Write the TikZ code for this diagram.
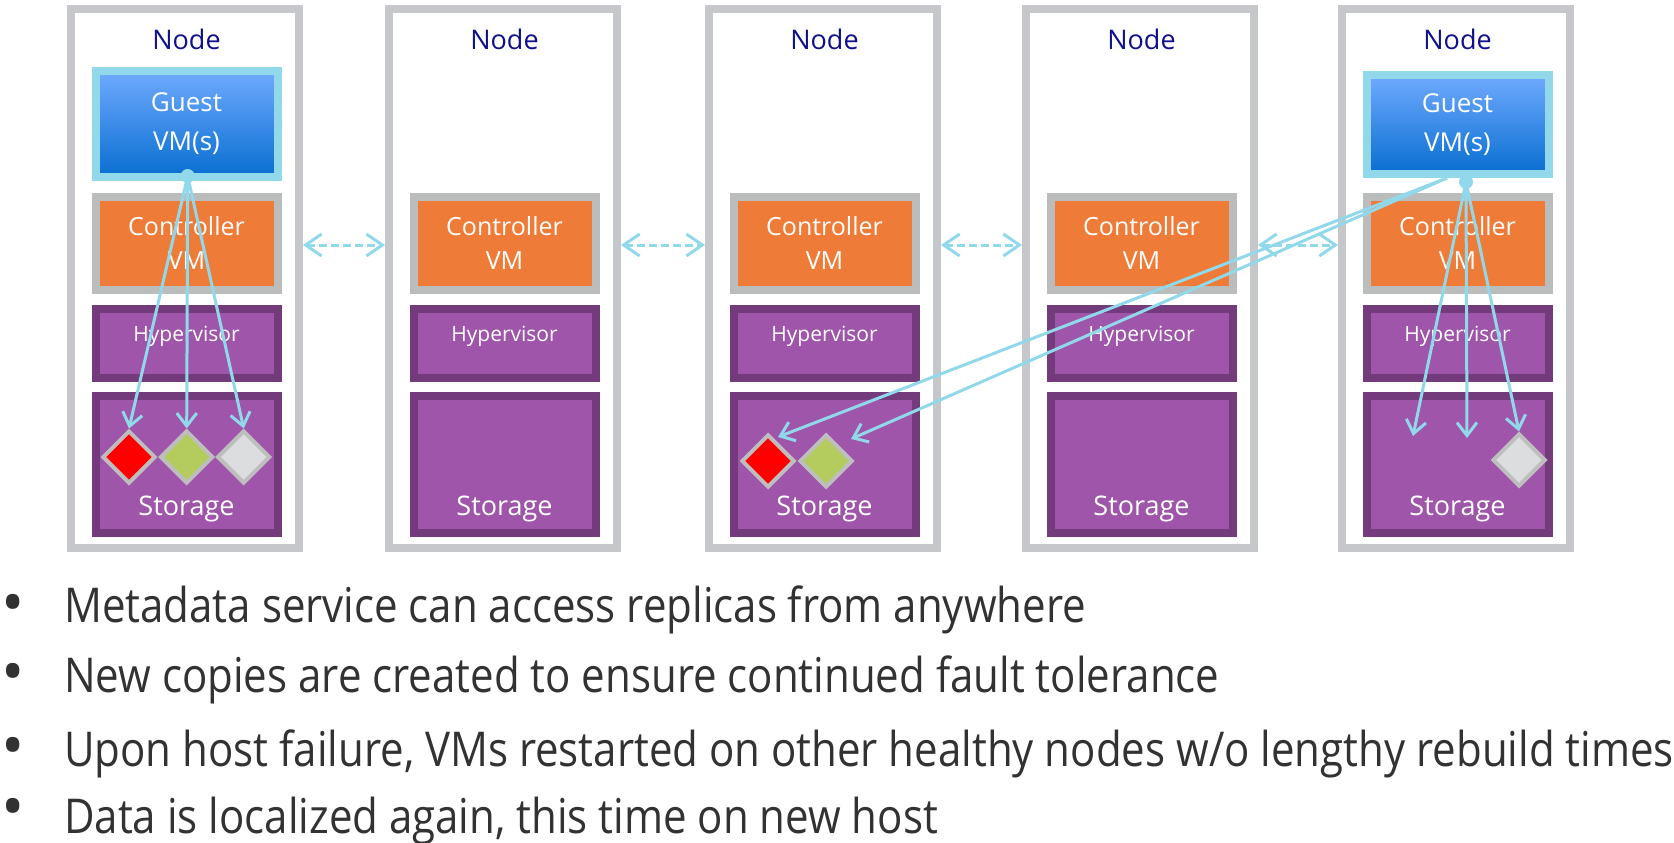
\documentclass[tikz,border=0pt]{standalone}
\usepackage{fontspec}
\setmainfont{Open Sans}
\usepackage{graphicx}
\usetikzlibrary{shapes.geometric, arrows.meta}

\definecolor{hostgray}{RGB}{198,199,203}
\definecolor{titleblue}{RGB}{16,16,140}
\definecolor{guestedge}{RGB}{146,216,235}
\definecolor{guesttop}{RGB}{112,170,255}
\definecolor{guestbottom}{RGB}{8,110,208}
\definecolor{cvmedge}{RGB}{187,188,188}
\definecolor{cvmfill}{RGB}{239,123,56}
\definecolor{hypedge}{RGB}{115,59,124}
\definecolor{hypfill}{RGB}{158,85,170}
\definecolor{linkcyan}{RGB}{146,216,235}
\definecolor{replicaedge}{RGB}{190,190,190}
\definecolor{replicared}{RGB}{255,0,0}
\definecolor{replicagreen}{RGB}{180,204,94}
\definecolor{replicagrey}{RGB}{220,221,223}
\definecolor{notetext}{RGB}{50,50,50}

\tikzstyle{hostbox} = [rectangle, draw=hostgray, line width=8pt, fill=white, minimum width=228pt, minimum height=539pt, inner sep=0pt]
\tikzstyle{hosttitle} = [anchor=base, inner sep=0pt, text=titleblue, font=\fontsize{27}{30}\selectfont]
\tikzstyle{guestbox} = [rectangle, draw=guestedge, line width=8pt, top color=guesttop, bottom color=guestbottom, minimum width=182pt, minimum height=106pt, text=white, align=center, font=\fontsize{26}{39}\selectfont]
\tikzstyle{cvmbox} = [rectangle, draw=cvmedge, fill=cvmfill, line width=8pt, minimum width=182pt, minimum height=93pt, text=white, align=center, font=\fontsize{25}{34}\selectfont]
\tikzstyle{hypbox} = [rectangle, draw=hypedge, fill=hypfill, line width=8pt, minimum width=182pt, minimum height=69pt]
\tikzstyle{stobox} = [rectangle, draw=hypedge, fill=hypfill, line width=8pt, minimum width=182pt, minimum height=137pt]
\tikzstyle{hyplabel} = [anchor=base, inner sep=0pt, text=white, font=\fontsize{21}{24}\selectfont]
\tikzstyle{stolabel} = [anchor=base, inner sep=0pt, text=white, font=\fontsize{27}{30}\selectfont]
\tikzstyle{replica} = [diamond, draw=replicaedge, line width=4pt, minimum width=53pt, minimum height=53pt, inner sep=0pt]
\tikzstyle{vmdot} = [circle, fill=linkcyan, minimum size=14pt, inner sep=0pt]
\tikzstyle{link} = [draw=linkcyan, line width=3pt, -{Straight Barb[length=13pt,width=20pt]}]
\tikzstyle{peer} = [draw=linkcyan, line width=3pt, dash pattern=on 8pt off 4pt, {Straight Barb[length=16pt,width=22pt]}-{Straight Barb[length=16pt,width=22pt]}]
\tikzstyle{bulletmark} = [anchor=base, inner sep=0pt, text=notetext, font=\fontsize{62}{70}\selectfont]
\tikzstyle{noteline} = [anchor=base west, inner sep=0pt, text=notetext, font=\fontsize{48}{58}\selectfont]

\begin{document}
\begin{tikzpicture}[x=1pt, y=-1pt]
	\useasboundingbox (0,0) rectangle (1674,843);
	% hosts
	\node (host1) [hostbox] at (185,278.5) {};
	\node (host2) [hostbox] at (503,278.5) {};
	\node (host3) [hostbox] at (823,278.5) {};
	\node (host4) [hostbox] at (1140,278.5) {};
	\node (host5) [hostbox] at (1456,278.5) {};
	\node (title1) [hosttitle] at (186.5,50) {Node};
	\node (title2) [hosttitle] at (504.5,50) {Node};
	\node (title3) [hosttitle] at (824.5,50) {Node};
	\node (title4) [hosttitle] at (1141.5,50) {Node};
	\node (title5) [hosttitle] at (1457.5,50) {Node};
	% guest VMs, before and after the move
	\node (guest1) [guestbox] at (186.5,124) {Guest\\VM(s)};
	\node (guest5) [guestbox, minimum height=99pt] at (1457.5,124.5) {Guest\\VM(s)};
	% controller VMs
	\node (cvm1) [cvmbox] at (186.5,243.5) {Controller\\VM};
	\node (cvm2) [cvmbox] at (504.5,243.5) {Controller\\VM};
	\node (cvm3) [cvmbox] at (824.5,243.5) {Controller\\VM};
	\node (cvm4) [cvmbox] at (1141.5,243.5) {Controller\\VM};
	\node (cvm5) [cvmbox] at (1457.5,243.5) {Controller\\VM};
	% hypervisors
	\node (hyp1) [hypbox] at (186.5,343.5) {};
	\node (hyp2) [hypbox] at (504.5,343.5) {};
	\node (hyp3) [hypbox] at (824.5,343.5) {};
	\node (hyp4) [hypbox] at (1141.5,343.5) {};
	\node (hyp5) [hypbox] at (1457.5,343.5) {};
	\node (hyplbl1) [hyplabel] at (186.5,341) {Hypervisor};
	\node (hyplbl2) [hyplabel] at (504.5,341) {Hypervisor};
	\node (hyplbl3) [hyplabel] at (824.5,341) {Hypervisor};
	\node (hyplbl4) [hyplabel] at (1141.5,341) {Hypervisor};
	\node (hyplbl5) [hyplabel] at (1457.5,341) {Hypervisor};
	% storage
	\node (sto1) [stobox] at (186.5,464.5) {};
	\node (sto2) [stobox] at (504.5,464.5) {};
	\node (sto3) [stobox] at (824.5,464.5) {};
	\node (sto4) [stobox] at (1141.5,464.5) {};
	\node (sto5) [stobox] at (1457.5,464.5) {};
	\node (stolbl1) [stolabel] at (186.5,515) {Storage};
	\node (stolbl2) [stolabel] at (504.5,515) {Storage};
	\node (stolbl3) [stolabel] at (824.5,515) {Storage};
	\node (stolbl4) [stolabel] at (1141.5,515) {Storage};
	\node (stolbl5) [stolabel] at (1457.5,515) {Storage};
	% replicas
	\node (rep1a) [replica, fill=replicared] at (129,457) {};
	\node (rep1b) [replica, fill=replicagreen] at (186.7,457) {};
	\node (rep1c) [replica, fill=replicagrey] at (243.7,457) {};
	\node (rep3a) [replica, fill=replicared] at (768,461) {};
	\node (rep3b) [replica, fill=replicagreen] at (826,461) {};
	\node (rep5c) [replica, fill=replicagrey] at (1519,460) {};
	% data paths
	\node (dot1) [vmdot] at (187.7,176) {};
	\node (dot5) [vmdot] at (1466,182) {};
	\coordinate (src5) at (1447,178);
	\coordinate (hit3a) at (778,437);
	\coordinate (hit3b) at (851,439);
	\coordinate (hit5a) at (1413,436);
	\coordinate (hit5b) at (1467,438);
	\draw [link] (dot1.center) -- (rep1a.north);
	\draw [link] (dot1.center) -- (rep1b.north);
	\draw [link] (dot1.center) -- (rep1c.north);
	\draw [link] (src5) -- (hit3a);
	\draw [link] (src5) -- (hit3b);
	\draw [link] (dot5.center) -- (hit5a);
	\draw [link] (dot5.center) -- (hit5b);
	\draw [link] (dot5.center) -- (rep5c.north);
	\draw [peer] ([yshift=33.5pt]host1.east) -- ([yshift=33.5pt]host2.west);
	\draw [peer] ([yshift=33.5pt]host2.east) -- ([yshift=33.5pt]host3.west);
	\draw [peer] ([yshift=33.5pt]host3.east) -- ([yshift=33.5pt]host4.west);
	\draw [peer] ([yshift=33.5pt]host4.east) -- ([yshift=33.5pt]host5.west);
	% notes
	\node (markA) [bulletmark] at (12.7,624) {•};
	\node (markB) [bulletmark] at (12.7,693) {•};
	\node (markC) [bulletmark] at (12.7,767) {•};
	\node (markD) [bulletmark] at (12.7,828) {•};
	\node (noteA) [noteline] at (64,622.5) {\scalebox{0.875}[1]{Metadata service can access replicas from anywhere}};
	\node (noteB) [noteline] at (64,692.5) {\scalebox{0.875}[1]{New copies are created to ensure continued fault tolerance}};
	\node (noteC) [noteline] at (64,766.7) {\scalebox{0.875}[1]{Upon host failure, VMs restarted on other healthy nodes w/o lengthy rebuild times}};
	\node (noteD) [noteline] at (64,833.5) {\scalebox{0.875}[1]{Data is localized again, this time on new host}};
\end{tikzpicture}
\end{document}
